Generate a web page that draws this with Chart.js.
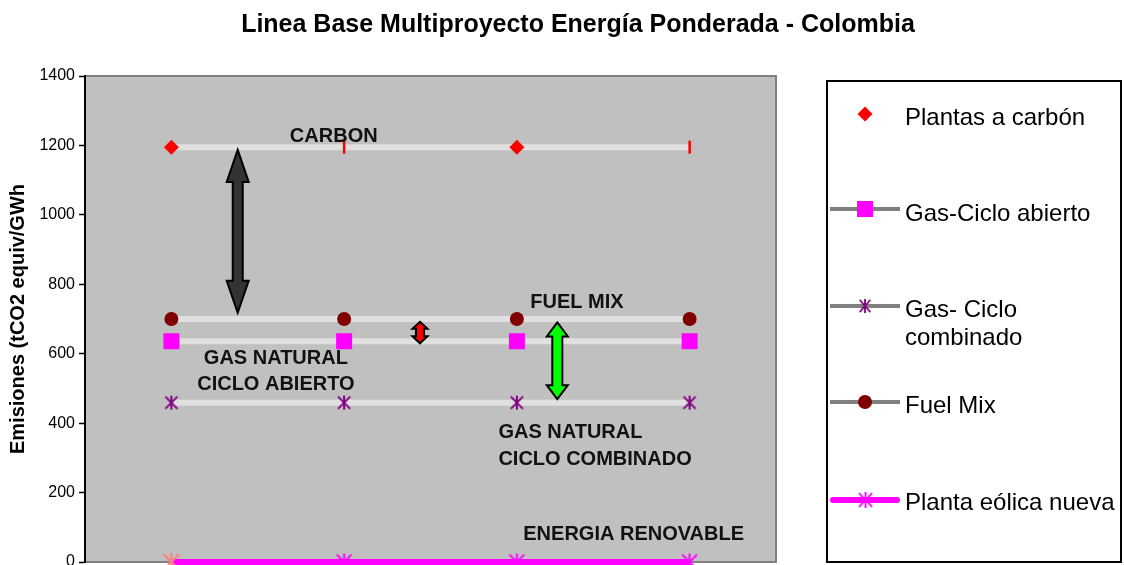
<!DOCTYPE html>
<html>
<head>
<meta charset="utf-8">
<script src="https://cdn.jsdelivr.net/npm/chart.js"></script>
<style>
  body { margin: 0; background: #fff; overflow: hidden; }
  #wrap { position: relative; width: 1124px; height: 565px; font-family: "Liberation Sans", Arial, sans-serif; color: #000; }
  #chart { position: absolute; left: 0; top: 0; }
  #title { position: absolute; left: 32px; top: 8px; width: 1092px; text-align: center; font-weight: bold; font-size: 25px; line-height: 30px; }
  #legendBox { position: absolute; left: 826px; top: 80px; width: 292px; height: 479px; border: 2px solid #000; }
  #legendSym { position: absolute; left: 826px; top: 80px; }
  .lg { position: absolute; left: 905px; width: 216px; font-size: 24px; line-height: 28px; }
</style>
</head>
<body>
<div id="wrap">
  <canvas id="chart" width="1124" height="565"></canvas>
  <div id="title">Linea Base Multiproyecto Energía Ponderada - Colombia</div>
  <div id="legendBox"></div>
  <canvas id="legendSym" width="100" height="483"></canvas>
</div>
<script>
// --- data ---
const categories = ['1', '2', '3', '4'];
const carbon = [1195, 1195, 1195, 1195];
const gasAbierto = [636, 636, 636, 636];
const gasCombinado = [459, 459, 459, 459];
const fuelMix = [700, 700, 700, 700];
const eolica = [0, 0, 0, 0];
const seriesNames = ['Plantas a carbón', 'Gas-Ciclo abierto', 'Gas- Ciclo combinado', 'Fuel Mix', 'Planta eólica nueva'];
const yMin = 0, yMax = 1400, yStep = 200;

// notes written inside the plot (x = category index, y = value)
const notes = [
    { lines: ['CARBON'], x: 0.94, y: 1229, align: 'center' },
    { lines: ['FUEL MIX'], x: 2.348, y: 751, align: 'center' },
    { lines: ['GAS NATURAL', 'CICLO ABIERTO'], x: 0.605, y: 591, align: 'center' },
    { lines: ['GAS NATURAL', 'CICLO COMBINADO'], x: 1.893, y: 377, align: 'left' },
    { lines: ['ENERGIA RENOVABLE'], x: 2.676, y: 84, align: 'center' }
];
const arrows = [
    { x: 0.384, from: 1187, to: 718, fill: '#333333', shaft: 10, head: 22, headLen: 32 },
    { x: 1.439, from: 692, to: 630, fill: '#ff0000', shaft: 8, head: 15, headLen: 7 },
    { x: 2.234, from: 690, to: 469, fill: '#00ff00', shaft: 10, head: 21, headLen: 14 }
];

const FONT = '"Liberation Sans", Arial, sans-serif';
Chart.defaults.font.family = FONT;
Chart.defaults.color = '#000';

function asterisk(color, size, lw) {
    const c = document.createElement('canvas');
    c.width = size; c.height = size;
    const g = c.getContext('2d');
    const m = size / 2, r = size / 2 - lw / 2;
    g.strokeStyle = color;
    g.lineWidth = lw;
    g.beginPath();
    g.moveTo(m, m - r); g.lineTo(m, m + r);
    g.moveTo(m - r * 0.87, m - r * 0.87); g.lineTo(m + r * 0.87, m + r * 0.87);
    g.moveTo(m + r * 0.87, m - r * 0.87); g.lineTo(m - r * 0.87, m + r * 0.87);
    g.stroke();
    return c;
}

const purpleStar = asterisk('#800080', 16, 2);
const pinkStar = asterisk('#ff00ff', 19, 2);
const salmonStar = asterisk('#ff8080', 20, 2);

function doubleArrow(ctx, x, y1, y2, a) {
    const s = a.shaft / 2, h = a.head / 2;
    ctx.beginPath();
    ctx.moveTo(x, y1);
    ctx.lineTo(x + h, y1 + a.headLen);
    ctx.lineTo(x + s, y1 + a.headLen);
    ctx.lineTo(x + s, y2 - a.headLen);
    ctx.lineTo(x + h, y2 - a.headLen);
    ctx.lineTo(x, y2);
    ctx.lineTo(x - h, y2 - a.headLen);
    ctx.lineTo(x - s, y2 - a.headLen);
    ctx.lineTo(x - s, y1 + a.headLen);
    ctx.lineTo(x - h, y1 + a.headLen);
    ctx.closePath();
    ctx.fillStyle = a.fill;
    ctx.fill();
    ctx.lineWidth = 2;
    ctx.strokeStyle = '#000';
    ctx.stroke();
}

const plotFrame = {
    id: 'plotFrame',
    beforeDraw(chart) {
        const { ctx, chartArea: a } = chart;
        ctx.save();
        ctx.fillStyle = '#c0c0c0';
        ctx.fillRect(a.left, a.top, a.right - a.left, a.bottom - a.top);
        ctx.restore();
    },
    beforeDatasetsDraw(chart) {
        const { ctx, chartArea: a } = chart;
        ctx.save();
        ctx.strokeStyle = '#808080';
        ctx.lineWidth = 2;
        ctx.beginPath();
        ctx.moveTo(a.left + 1, a.top);
        ctx.lineTo(a.right, a.top);
        ctx.lineTo(a.right, a.bottom);
        ctx.lineTo(a.left + 1, a.bottom);
        ctx.stroke();
        ctx.restore();
    },
    afterDatasetsDraw(chart) {
        const { ctx, scales: { x, y } } = chart;
        ctx.save();
        arrows.forEach(a => doubleArrow(ctx, x.getPixelForValue(a.x), y.getPixelForValue(a.from), y.getPixelForValue(a.to), a));
        ctx.fillStyle = '#111';
        ctx.font = 'bold 20px ' + FONT;
        ctx.textBaseline = 'alphabetic';
        notes.forEach(n => {
            const px = x.getPixelForValue(n.x);
            const py = y.getPixelForValue(n.y);
            ctx.textAlign = n.align;
            n.lines.forEach((t, i) => ctx.fillText(t, px, py + 7 + i * 26.5));
        });
        ctx.restore();
    }
};

const greyLine = { borderColor: '#e0e0e0', borderWidth: 6, borderCapStyle: 'butt', clip: false, tension: 0 };

new Chart(document.getElementById('chart'), {
    type: 'line',
    data: {
        labels: categories,
        datasets: [
            {
                ...greyLine,
                label: seriesNames[0],
                data: carbon,
                pointStyle: ['rectRot', 'line', 'rectRot', 'line'],
                pointRotation: [0, 90, 0, 90],
                pointRadius: [7.5, 6.5, 7.5, 6.5],
                pointBackgroundColor: '#ff0000',
                pointBorderColor: '#ff0000',
                pointBorderWidth: [0, 2.5, 0, 2.5]
            },
            {
                ...greyLine,
                label: seriesNames[3],
                data: fuelMix,
                pointStyle: 'circle',
                pointRadius: 7,
                pointBackgroundColor: '#800000',
                pointBorderWidth: 0
            },
            {
                ...greyLine,
                label: seriesNames[1],
                data: gasAbierto,
                pointStyle: 'rect',
                pointRadius: 11.3,
                pointBackgroundColor: '#ff00ff',
                pointBorderWidth: 0
            },
            {
                ...greyLine,
                label: seriesNames[2],
                data: gasCombinado,
                pointStyle: purpleStar
            },
            {
                label: seriesNames[4],
                data: eolica,
                borderColor: '#ff00ff',
                borderWidth: 6,
                borderCapStyle: 'butt',
                clip: false,
                pointStyle: [salmonStar, pinkStar, pinkStar, pinkStar]
            }
        ]
    },
    options: {
        responsive: false,
        animation: false,
        devicePixelRatio: 1,
        layout: { autoPadding: false, padding: { top: 76, right: 348, bottom: 3, left: 0 } },
        plugins: { legend: { display: false }, tooltip: { enabled: false }, title: { display: false } },
        scales: {
            x: { type: 'category', display: false, offset: true },
            y: {
                min: yMin,
                max: yMax,
                ticks: { stepSize: yStep, color: '#000', font: { size: 16 }, padding: 4, callback: v => String(v) },
                grid: { drawOnChartArea: false, drawTicks: true, tickLength: 6, tickColor: '#000', tickWidth: 1.5 },
                border: { color: '#000', width: 2 },
                title: {
                    display: true,
                    text: 'Emisiones (tCO2 equiv/GWh',
                    color: '#000',
                    font: { size: 20, weight: 'bold' },
                    padding: { top: 6, bottom: 0 }
                },
                afterFit(s) {
                    s.width = 85;
                    s.paddingTop = 0;
                    s.paddingBottom = 0;
                }
            }
        }
    },
    plugins: [plotFrame]
});

// --- legend on the right ---
(function () {
    const wrap = document.getElementById('wrap');
    const tops = [103, 199, 295, 391, 488];
    seriesNames.forEach((name, i) => {
        const d = document.createElement('div');
        d.className = 'lg';
        d.style.top = tops[i] + 'px';
        d.textContent = name;
        wrap.appendChild(d);
    });

    const g = document.getElementById('legendSym').getContext('2d');
    const mx = 39;
    function line(y, color, w, cap) {
        g.save();
        g.strokeStyle = color; g.lineWidth = w; g.lineCap = cap;
        g.beginPath(); g.moveTo(cap === 'round' ? 7 : 4, y); g.lineTo(cap === 'round' ? 71 : 74, y); g.stroke();
        g.restore();
    }
    // carbon: diamond only
    g.fillStyle = '#ff0000';
    g.beginPath(); g.moveTo(mx, 34 - 7.5); g.lineTo(mx + 7.5, 34); g.lineTo(mx, 34 + 7.5); g.lineTo(mx - 7.5, 34); g.closePath(); g.fill();
    // gas ciclo abierto
    line(129, '#808080', 4, 'butt');
    g.fillStyle = '#ff00ff';
    g.fillRect(mx - 8, 129 - 8, 16, 16);
    // gas ciclo combinado
    line(226, '#808080', 4, 'butt');
    g.drawImage(purpleStar, mx - 7, 226 - 8, 14, 16);
    // fuel mix
    line(322, '#808080', 4, 'butt');
    g.fillStyle = '#800000';
    g.beginPath(); g.arc(mx, 322, 7, 0, Math.PI * 2); g.fill();
    // eolica
    line(420, '#ff00ff', 6, 'round');
    g.drawImage(pinkStar, mx - 8, 420 - 9, 17, 18);
})();
</script>
</body>
</html>
